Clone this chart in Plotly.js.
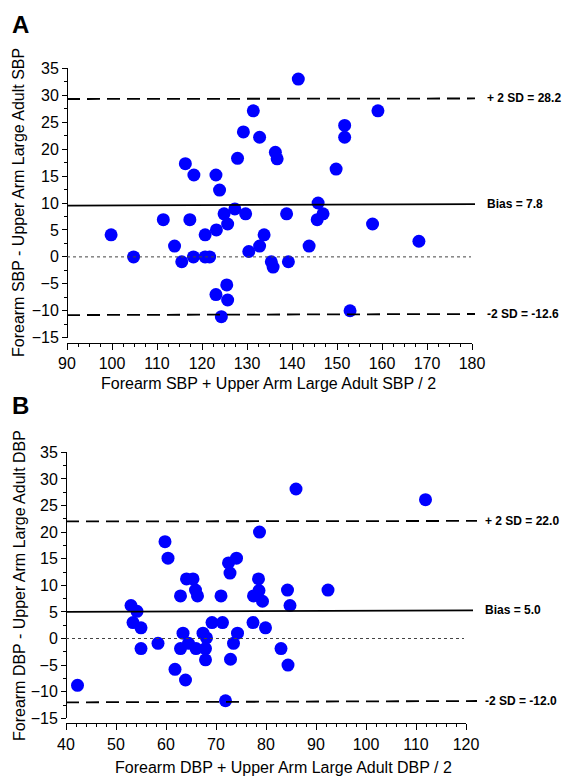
<!DOCTYPE html>
<html>
<head>
<meta charset="utf-8">
<script src="https://cdn.plot.ly/plotly-3.0.1.min.js"></script>
<style>html,body{margin:0;padding:0;background:#fff;}#chart{width:567px;height:776px;}</style>
</head>
<body>
<div id="chart"></div>
<script>
// ---- Panel A: SBP ----
const sbpMean = [141.4,131.4,159.1,129.2,132.8,151.7,151.7,136.3,136.7,127.9,116.3,118.2,123.1,123.9,149.8,145.8,
  127.3,124.9,129.7,138.8,146.9,145.6,111.4,117.3,125.7,157.9,123.2,133.8,120.7,99.8,168.2,113.9,132.8,143.8,
  130.4,104.8,118.1,120.7,121.7,115.5,135.4,139.2,135.8,125.5,123.1,125.7,124.3,152.9];
const sbpDiff = [33.0,27.1,27.1,23.2,22.2,24.4,22.2,19.4,18.2,18.3,17.3,15.2,15.2,12.4,16.3,10.0,
  8.9,8.0,8.0,8.0,8.0,6.9,6.9,6.9,6.1,6.1,5.0,4.1,4.1,4.1,2.9,2.0,2.0,2.0,
  1.0,0.0,0.0,0.0,0.0,-0.9,-0.9,-0.9,-1.9,-5.2,-7.0,-8.0,-11.1,-10.0];
const sbpUpper = [29.3, 29.4];   // line y at left / right end
const sbpBias  = [9.5, 9.8];
const sbpLower = [-10.8, -10.6];
const sbpLabels = ['+ 2 SD = 28.2', 'Bias = 7.8', '-2 SD = -12.6'];

// ---- Panel B: DBP ----
const dbpMean = [86.0,111.9,78.7,59.8,60.4,74.1,72.5,72.8,64.1,65.4,78.5,84.3,92.4,65.9,66.3,62.9,71.0,77.5,78.6,
  79.3,84.8,53.0,54.2,53.4,55.0,69.2,71.3,77.4,79.9,63.4,67.4,68.1,74.3,58.4,64.5,62.9,66.0,67.9,73.5,55.0,83.0,
  67.9,72.9,61.8,84.4,63.9,42.3,71.9];
const dbpDiff = [28.1,26.1,20.0,18.2,15.1,15.1,14.2,12.3,11.2,11.2,11.2,9.1,9.1,9.1,8.0,8.0,8.0,8.0,9.0,
  7.0,6.2,6.2,5.1,3.0,2.0,3.0,3.0,3.0,2.0,1.0,1.0,0.1,1.0,-0.9,-0.9,-1.9,-1.9,-1.9,-0.9,-1.9,-1.9,
  -4.0,-3.9,-5.8,-5.0,-7.8,-8.8,-11.7];
const dbpUpper = [22.0, 22.1];
const dbpBias  = [5.0, 5.3];
const dbpLower = [-12.0, -11.75];
const dbpLabels = ['+ 2 SD = 22.0', 'Bias = 5.0', '-2 SD = -12.0'];

const W = 567, H = 776;
const px = v => v / W;
const py = v => 1 - v / H;
const FONT = 'Liberation Sans, Arial, sans-serif';

const traces = [
  {x: sbpMean, y: sbpDiff, xaxis: 'x', yaxis: 'y', type: 'scatter', mode: 'markers',
   marker: {color: '#0000FF', size: 13}, hoverinfo: 'x+y', cliponaxis: false},
  {x: dbpMean, y: dbpDiff, xaxis: 'x2', yaxis: 'y2', type: 'scatter', mode: 'markers',
   marker: {color: '#0000FF', size: 13}, hoverinfo: 'x+y', cliponaxis: false}
];

function panelShapes(yref, x0, xDot, xSolid, xDash, upper, bias, lower) {
  return [
    {type: 'line', xref: 'paper', yref: yref, x0: px(x0), x1: px(xDot), y0: 0, y1: 0,
     line: {color: '#444', width: 1, dash: 'dot'}},
    {type: 'line', xref: 'paper', yref: yref, x0: px(x0), x1: px(xSolid), y0: bias[0], y1: bias[1],
     line: {color: '#000', width: 1.8}},
    {type: 'line', xref: 'paper', yref: yref, x0: px(x0), x1: px(xDash), y0: upper[0], y1: upper[1],
     line: {color: '#000', width: 1.8, dash: '13px,7px'}},
    {type: 'line', xref: 'paper', yref: yref, x0: px(x0), x1: px(xDash), y0: lower[0], y1: lower[1],
     line: {color: '#000', width: 1.8, dash: '13px,7px'}}
  ];
}

function lineLabels(yref, xl, upper, bias, lower, labels) {
  const ys = [upper[1], bias[1], lower[1]];
  return labels.map((t, i) => ({
    xref: 'paper', yref: yref, x: px(xl), y: ys[i], xanchor: 'left', yanchor: 'middle',
    text: '<b>' + t + '</b>', showarrow: false, font: {family: FONT, size: 12, color: '#000'}
  }));
}

const axisCommon = {
  showline: true, linecolor: '#000', linewidth: 1, showgrid: false, zeroline: false,
  ticks: 'outside', ticklen: 6, tickwidth: 1, tickcolor: '#000',
  tickfont: {family: FONT, size: 16, color: '#000'}, fixedrange: true
};

const layout = {
  width: W, height: H, margin: {l: 0, r: 0, t: 0, b: 0},
  paper_bgcolor: '#fff', plot_bgcolor: '#fff', showlegend: false,
  font: {family: FONT, color: '#000'},
  xaxis: Object.assign({}, axisCommon, {
    domain: [px(67), px(472)], range: [90, 180], tick0: 90, dtick: 10,
    anchor: 'free', position: py(342.5),
    minor: {dtick: 2.5, ticks: 'outside', ticklen: 3, tickcolor: '#000', tickwidth: 1, showgrid: false}
  }),
  yaxis: Object.assign({}, axisCommon, {
    domain: [py(337.7), py(68.3)], range: [-15, 35], tick0: -15, dtick: 5, ticklen: 5,
    anchor: 'free', position: px(67),
    minor: {dtick: 2.5, ticks: 'outside', ticklen: 3, tickcolor: '#000', tickwidth: 1, showgrid: false}
  }),
  xaxis2: Object.assign({}, axisCommon, {
    domain: [px(66), px(466)], range: [40, 120], tick0: 40, dtick: 10,
    anchor: 'free', position: py(723.3),
    minor: {dtick: 2, ticks: 'outside', ticklen: 3, tickcolor: '#000', tickwidth: 1, showgrid: false}
  }),
  yaxis2: Object.assign({}, axisCommon, {
    domain: [py(718.3), py(452.3)], range: [-15, 35], tick0: -15, dtick: 5, ticklen: 5,
    anchor: 'free', position: px(66),
    minor: {dtick: 2.5, ticks: 'outside', ticklen: 3, tickcolor: '#000', tickwidth: 1, showgrid: false}
  }),
  shapes: [].concat(
    panelShapes('y', 67, 471, 475, 475, sbpUpper, sbpBias, sbpLower),
    panelShapes('y2', 66, 464, 473, 477, dbpUpper, dbpBias, dbpLower)
  ),
  annotations: [].concat(
    lineLabels('y', 485, sbpUpper, sbpBias, sbpLower, sbpLabels),
    lineLabels('y2', 483, dbpUpper, dbpBias, dbpLower, dbpLabels),
    [
      {xref: 'paper', yref: 'paper', x: px(10), y: py(24), xanchor: 'left', yanchor: 'middle',
       text: '<b>A</b>', showarrow: false, font: {family: FONT, size: 24, color: '#000'}},
      {xref: 'paper', yref: 'paper', x: px(10), y: py(405), xanchor: 'left', yanchor: 'middle',
       text: '<b>B</b>', showarrow: false, font: {family: FONT, size: 24, color: '#000'}},
      {xref: 'paper', yref: 'paper', x: px(19), y: py(203), xanchor: 'center', yanchor: 'middle',
       textangle: -90, text: 'Forearm SBP - Upper Arm Large Adult SBP', showarrow: false,
       font: {family: FONT, size: 16, color: '#000'}},
      {xref: 'paper', yref: 'paper', x: px(268), y: py(383), xanchor: 'center', yanchor: 'middle',
       text: 'Forearm SBP + Upper Arm Large Adult SBP / 2', showarrow: false,
       font: {family: FONT, size: 16, color: '#000'}},
      {xref: 'paper', yref: 'paper', x: px(19), y: py(586), xanchor: 'center', yanchor: 'middle',
       textangle: -90, text: 'Forearm DBP - Upper Arm Large Adult DBP', showarrow: false,
       font: {family: FONT, size: 16, color: '#000'}},
      {xref: 'paper', yref: 'paper', x: px(283), y: py(767), xanchor: 'center', yanchor: 'middle',
       text: 'Forearm DBP + Upper Arm Large Adult DBP / 2', showarrow: false,
       font: {family: FONT, size: 16, color: '#000'}}
    ]
  )
};

Plotly.newPlot('chart', traces, layout, {displayModeBar: false, staticPlot: true});
</script>
</body>
</html>
